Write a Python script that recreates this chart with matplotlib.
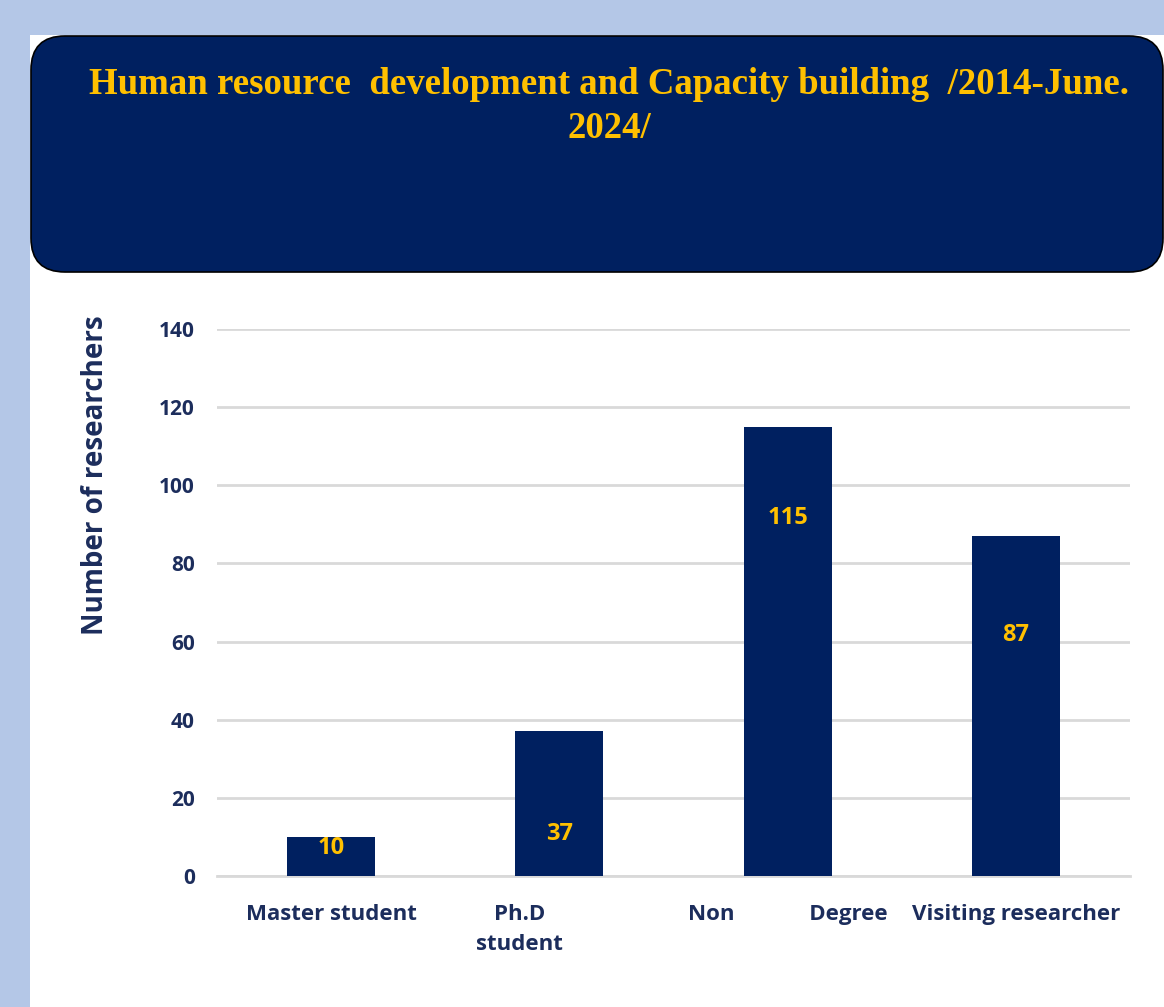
import matplotlib
matplotlib.use("Agg")
import matplotlib.pyplot as plt
from matplotlib.patches import FancyBboxPatch, Rectangle
from matplotlib.transforms import ScaledTranslation

categories = ["Master student", "Ph.D\nstudent", "Non             Degree", "Visiting researcher"]
values = [10, 37, 115, 87]
label_pos = [7.2, 10.7, 91.6, 61.7]   # where the value labels sit inside the bars
yticks = [0, 20, 40, 60, 80, 100, 120, 140]

NAVY = "#002060"
GOLD = "#FFC000"
TEXT = "#1c2d5c"
W, H = 1164, 1007

fig = plt.figure(figsize=(W / 100, H / 100), dpi=100)
fig.patch.set_facecolor("#b4c7e7")

# white slide panel and the dark title box (display / pixel coords)
fig.add_artist(Rectangle((30, 0), W - 30, H - 35, transform=None,
                         facecolor="white", edgecolor="none", zorder=0))
fig.add_artist(FancyBboxPatch((31, H - 272), W - 32, 236, transform=None,
                              boxstyle="round,pad=0,rounding_size=34",
                              facecolor=NAVY, edgecolor="black", linewidth=1.2, zorder=1))

fig.text(609 / W, 1 - 85 / H, "Human resource  development and Capacity building  /2014-June.",
         ha="center", va="center", color=GOLD, fontsize=26.6, fontweight="bold",
         family="Liberation Serif")
fig.text(609 / W, 1 - 128 / H, "2024/", ha="center", va="center", color=GOLD,
         fontsize=26.6, fontweight="bold", family="Liberation Serif")

ax = fig.add_axes([217 / W, 1 - 876 / H, 913 / W, 547 / H])
ax.set_facecolor("none")
x = range(len(categories))
ax.bar(x, values, width=0.385, color=NAVY, zorder=3)
ax.set_xlim(-0.5, len(categories) - 0.5)
ax.set_ylim(0, 140)
ax.set_yticks(yticks)
ax.grid(axis="y", color="#d9d9d9", linewidth=2, zorder=0)
for s in ["top", "right", "left"]:
    ax.spines[s].set_visible(False)
ax.spines["bottom"].set_color("#d9d9d9")
ax.spines["bottom"].set_linewidth(2)
ax.tick_params(length=0)
ax.tick_params(axis="y", pad=16)
ax.tick_params(axis="x", pad=20)

ax.set_xticks(list(x))
ax.set_xticklabels(categories, fontsize=16, fontweight="bold", color=TEXT,
                   family="Open Sans", va="top", linespacing=1.55)
# the wrapped Ph.D label sits left of its bar in the original
phd = ax.get_xticklabels()[1]
phd.set_transform(phd.get_transform() + ScaledTranslation(-0.4, 0, fig.dpi_scale_trans))
for lbl in ax.get_yticklabels():
    lbl.set_fontsize(15)
    lbl.set_fontweight("bold")
    lbl.set_color(TEXT)
    lbl.set_family("Open Sans")

ax.set_ylabel("Number of researchers", fontsize=20, fontweight="bold", color=TEXT,
              family="Open Sans")
ax.yaxis.set_label_coords((110 - 217) / 913, (876 - 475) / 547)

for xi, v, yp in zip(x, values, label_pos):
    ax.text(xi, yp, str(v), ha="center", va="center", color=GOLD, fontsize=17,
            fontweight="bold", family="Open Sans", zorder=4)

fig.savefig("out.png", dpi=100, facecolor=fig.get_facecolor())
